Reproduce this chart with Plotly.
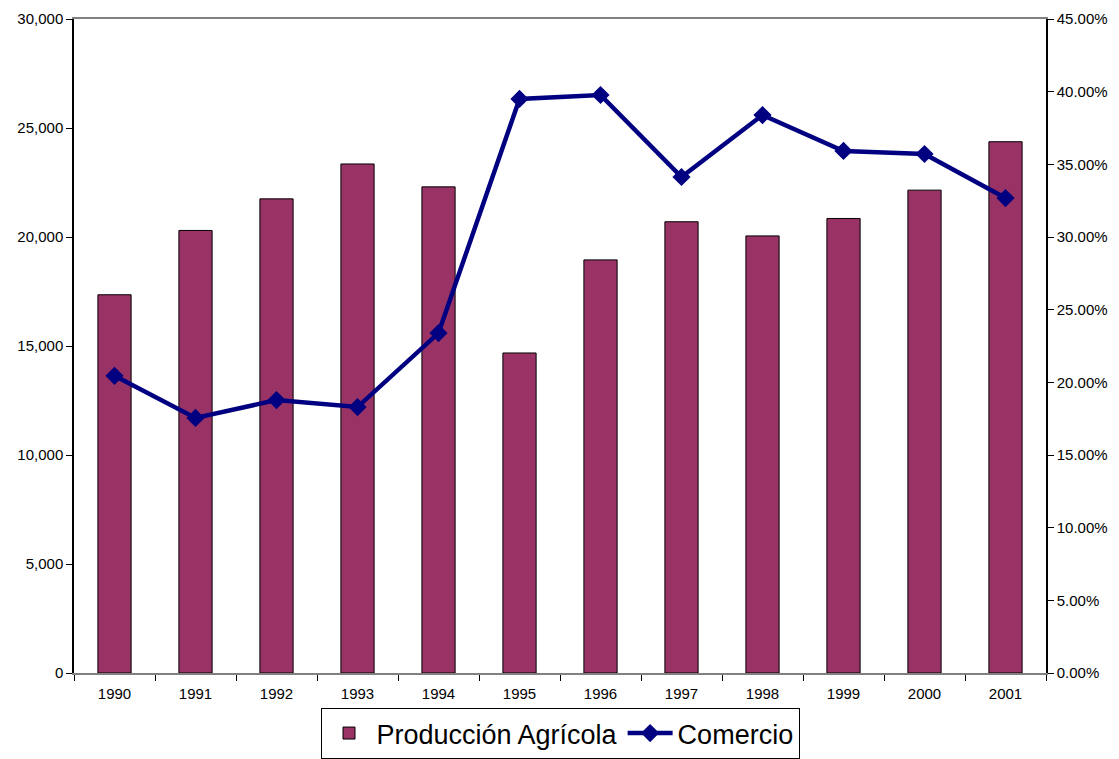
import plotly.graph_objects as go

years = ["1990", "1991", "1992", "1993", "1994", "1995", "1996", "1997", "1998", "1999", "2000", "2001"]
produccion = [17350, 20300, 21750, 23350, 22300, 14680, 18950, 20700, 20050, 20850, 22150, 24370]
comercio = [0.2045, 0.1755, 0.1878, 0.1830, 0.2339, 0.3950, 0.3977, 0.3413, 0.3839, 0.3592, 0.3571, 0.3268]

font_family = "Liberation Sans, Arial, sans-serif"

fig = go.Figure()
fig.add_trace(go.Bar(
    x=years, y=produccion, name="Producción Agrícola",
    marker=dict(color="#993366", line=dict(color="black", width=1)),
    width=0.41,
))
fig.add_trace(go.Scatter(
    x=years, y=comercio, name="Comercio", yaxis="y2",
    mode="lines+markers",
    line=dict(color="#000080", width=4.5),
    marker=dict(symbol="diamond", size=14, color="#000080"),
))

fig.update_layout(
    width=1119, height=759,
    margin=dict(l=74, r=73, t=19, b=86),
    plot_bgcolor="white", paper_bgcolor="white",
    font=dict(family=font_family, size=15, color="black"),
    showlegend=True,
    legend=dict(
        orientation="h", x=0.5, xanchor="center",
        yref="container", y=-0.03, yanchor="bottom",
        font=dict(size=27, family=font_family),
        bordercolor="black", borderwidth=1, bgcolor="white",
        tracegroupgap=0, itemwidth=45,
    ),
    xaxis=dict(
        range=[-0.5, len(years) - 0.5],
        showline=True, linecolor="#808080", linewidth=2, mirror=True,
        ticks="outside", tickson="boundaries", ticklen=6, tickcolor="black",
        showgrid=False, tickfont=dict(size=15), automargin=False,
        ticklabelstandoff=6,
    ),
    yaxis=dict(
        range=[0, 30000], dtick=5000, tickformat=",",
        showline=True, linecolor="black", linewidth=1.5,
        ticks="outside", ticklen=6, tickcolor="black",
        showgrid=False, zeroline=False, tickfont=dict(size=15), automargin=False,
    ),
    yaxis2=dict(
        range=[0, 0.45], dtick=0.05, tickformat=".2%",
        overlaying="y", side="right",
        showline=True, linecolor="black", linewidth=1.5,
        ticks="outside", ticklen=6, tickcolor="black",
        showgrid=False, zeroline=False, tickfont=dict(size=15), automargin=False,
    ),
    bargap=0.59,
)

fig.write_html(
    "out.html",
    config={"displayModeBar": False},
    post_script="document.body.style.margin='0';document.body.style.overflow='hidden';",
)
